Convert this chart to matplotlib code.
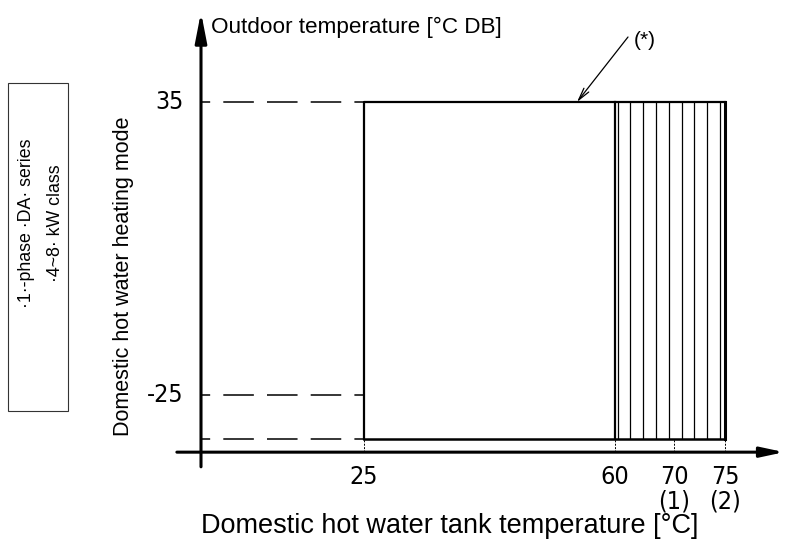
import numpy as np
import matplotlib
matplotlib.use('Agg')
import matplotlib.pyplot as plt
from matplotlib.patches import Rectangle

"""
Operating range, domestic hot water heating mode (schematic).
"""

# tank water temperature [degC]
tank_min = 25
tank_hp_max = 60          # above this: hatched zone
tank_max = 75
x_ticks = [25, 60, 70, 75]
x_ticklabels = ['25', '60', '70\n(1)', '75\n(2)']

# outdoor temperature [degC DB]
outdoor_max = 35
outdoor_min = -25
outdoor_low = -34         # lower edge of the envelope, not labelled
y_ticks = [35, -25]
y_ticklabels = ['35', '-25']

star_x = 54.7             # where the (*) note points on the top edge

# axis extents of the drawing
x_axis_y = -36.7
x_axis_from, x_axis_to = -3.7, 80.8
y_axis_from, y_axis_to = -39.7, 53.4

# the x axis is not to scale in the original drawing -> piecewise scale
x_knots = [-50, 0, 25, 60, 70, 75, 110]
x_px = [-125, 201, 364, 615, 674, 725, 1082]
def fwd(x):
	return np.interp(x, x_knots, x_px)
def inv(p):
	return np.interp(p, x_px, x_knots)

W, H = 786, 542
fig = plt.figure(figsize=(W/100, H/100), dpi=100)
ax = fig.add_axes([0, 0, 1, 1])
ax.set_xscale('function', functions=(fwd, inv))
ax.set_xlim(inv(0), inv(W))
ax.set_ylim(-55.1, 55.9)
ax.axis('off')

sans = ['Liberation Sans', 'DejaVu Sans']
narrow = ['DejaVu Sans']

# axes with arrows
ax.annotate('', xy=(0, y_axis_to), xytext=(0, y_axis_from),
	arrowprops=dict(arrowstyle='-|>,head_length=1.8,head_width=0.35', lw=2.2,
		color='black', shrinkA=0, shrinkB=0))
ax.annotate('', xy=(x_axis_to, x_axis_y), xytext=(x_axis_from, x_axis_y),
	arrowprops=dict(arrowstyle='-|>,head_length=1.4,head_width=0.3', lw=2.2,
		color='black', shrinkA=0, shrinkB=0))

# dashed reference lines from the y axis
for y in [outdoor_max, outdoor_min, outdoor_low]:
	ax.plot([0, tank_min], [y, y], color='black', lw=1.1, linestyle=(14, (20, 8.6)))

# dashed connectors down to the x axis
for x in x_ticks:
	ax.plot([x, x], [x_axis_y, outdoor_low], color='black', lw=0.7, linestyle=(0, (2, 1.5)))

# envelope
ax.plot([tank_min, tank_min, tank_max], [outdoor_low, outdoor_max, outdoor_max], color='black', lw=1.6)
ax.plot([tank_min, tank_max], [outdoor_low, outdoor_low], color='black', lw=1.8)
ax.plot([tank_max, tank_max], [outdoor_low, outdoor_max], color='black', lw=2.2)
ax.plot([tank_hp_max, tank_hp_max], [outdoor_low, outdoor_max], color='black', lw=1.6)

# hatching 60..75
hatch_px = np.linspace(fwd(tank_hp_max) + 2.5, fwd(tank_max) - 5, 9)
ax.vlines(inv(hatch_px), outdoor_low, outdoor_max, color='black', lw=0.9)

# tick labels
for y, lab in zip(y_ticks, y_ticklabels):
	ax.annotate(lab, xy=(0, y), xytext=(-12.5, 0), textcoords='offset points',
		ha='right', va='center', fontsize=18, family=narrow, fontstretch='condensed')
for x, lab in zip(x_ticks, x_ticklabels):
	ax.annotate(lab, xy=(x, x_axis_y), xytext=(0, -9.5), textcoords='offset points',
		ha='center', va='top', fontsize=18, family=narrow, fontstretch='condensed',
		linespacing=1.0)

# (*) note
fig.text(645/W, 1 - 41/H, '(*)', ha='center', va='center', fontsize=15, family=sans)
ax.annotate('', xy=(star_x, outdoor_max), xytext=(628, H - 37), textcoords='figure pixels',
	arrowprops=dict(arrowstyle='->,head_length=0.9,head_width=0.22', lw=0.9,
		color='black', shrinkA=0, shrinkB=0))

# titles
fig.text(211/W, 1 - 27/H, 'Outdoor temperature [°C DB]', ha='left', va='center',
	fontsize=16.2, family=sans)
fig.text(124/W, 1 - 276/H, 'Domestic hot water heating mode', rotation=90,
	ha='center', va='center', fontsize=15.5, family=sans)
fig.text(450/W, 1 - 526/H, 'Domestic hot water tank temperature [°C]', ha='center',
	va='center', fontsize=19.5, family=sans)

# model box
fig.add_artist(Rectangle((8/W, 1 - 411/H), 60/W, 328/H, transform=fig.transFigure,
	fill=False, lw=0.8, edgecolor='#333333'))
fig.text(27/W, 1 - 223/H, '·1·-phase ·DA· series', rotation=90, ha='center',
	va='center', fontsize=12.8, family=sans)
fig.text(56/W, 1 - 223/H, '·4~8· kW class', rotation=90, ha='center',
	va='center', fontsize=12.8, family=sans)

plt.savefig('out.png', dpi=100)
